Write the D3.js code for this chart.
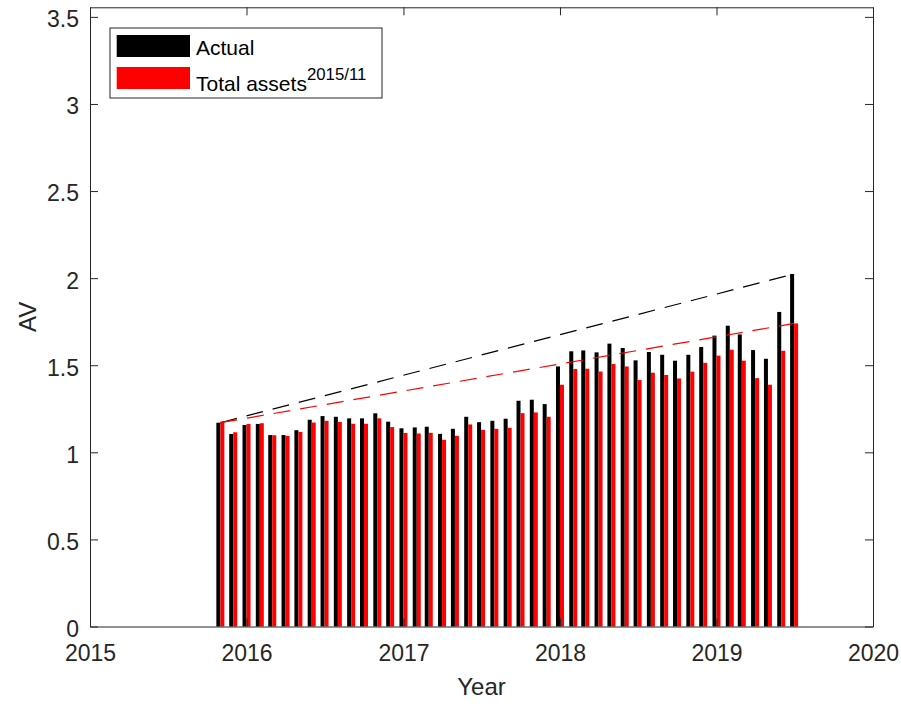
<!DOCTYPE html>
<html>
<head>
<meta charset="utf-8">
<script src="https://cdn.jsdelivr.net/npm/d3@7"></script>
<style>
  html, body { margin: 0; padding: 0; background: #fff; }
  svg { display: block; font-family: "Liberation Sans", Arial, Helvetica, sans-serif; }
</style>
</head>
<body>
<svg id="chart" width="901" height="704"></svg>
<script>
// ---- data ----
const months = [
  "2015-11","2015-12",
  "2016-01","2016-02","2016-03","2016-04","2016-05","2016-06","2016-07","2016-08","2016-09","2016-10","2016-11","2016-12",
  "2017-01","2017-02","2017-03","2017-04","2017-05","2017-06","2017-07","2017-08","2017-09","2017-10","2017-11","2017-12",
  "2018-01","2018-02","2018-03","2018-04","2018-05","2018-06","2018-07","2018-08","2018-09","2018-10","2018-11","2018-12",
  "2019-01","2019-02","2019-03","2019-04","2019-05","2019-06","2019-07"
];
const actual = [
  1.170, 1.105,
  1.157, 1.163, 1.099, 1.099, 1.127, 1.187, 1.208, 1.204, 1.195, 1.195, 1.224, 1.176,
  1.138, 1.143, 1.147, 1.106, 1.135, 1.204, 1.173, 1.181, 1.193, 1.296, 1.302, 1.277,
  1.493, 1.580, 1.585, 1.574, 1.624, 1.599, 1.528, 1.576, 1.560, 1.526, 1.560, 1.605,
  1.670, 1.727, 1.677, 1.587, 1.537, 1.806, 2.024
];
const totalAssets = [
  1.176, 1.115,
  1.163, 1.167, 1.098, 1.094, 1.117, 1.171, 1.181, 1.174, 1.164, 1.164, 1.195, 1.145,
  1.111, 1.108, 1.112, 1.072, 1.095, 1.160, 1.129, 1.135, 1.141, 1.225, 1.229, 1.204,
  1.388, 1.478, 1.480, 1.464, 1.507, 1.493, 1.415, 1.457, 1.444, 1.424, 1.463, 1.514,
  1.555, 1.589, 1.526, 1.426, 1.388, 1.583, 1.740
];
const trendMonths = ["2015-11", "2019-07"];
const trendActual = [1.17, 2.024];
const trendAssets = [1.17, 1.74];
const xTickYears = [2015, 2016, 2017, 2018, 2019, 2020];
const yTicks = [0, 0.5, 1, 1.5, 2, 2.5, 3, 3.5];
const seriesNames = ["Actual", "Total assets"];
const seriesSup = ["", "2015/11"];
const seriesColors = ["#000000", "#ff0000"];
const xLabel = "Year";
const yLabel = "AV";

// ---- layout ----
const svg = d3.select("#chart");
const mLeft = 90, mRight = 873, mTop = 7.3, mBottom = 626.5;
const axisColor = "#262626";
const parse = d3.timeParse("%Y-%m");

const x = d3.scaleTime()
  .domain([new Date(2015, 0, 1), new Date(2020, 0, 1)])
  .range([mLeft, mRight]);
const y = d3.scaleLinear()
  .domain([0, 3.555])
  .range([mBottom, mTop]);

svg.append("rect").attr("width", 901).attr("height", 704).attr("fill", "#fff");

// bars
const dates = months.map(parse);
const barW = 4;
const g = svg.append("g");
g.selectAll("rect.actual").data(dates).join("rect")
  .attr("class", "actual")
  .attr("x", d => x(d) - barW)
  .attr("width", barW)
  .attr("y", (d, i) => y(actual[i]))
  .attr("height", (d, i) => y(0) - y(actual[i]))
  .attr("fill", seriesColors[0]);
g.selectAll("rect.assets").data(dates).join("rect")
  .attr("class", "assets")
  .attr("x", d => x(d))
  .attr("width", barW)
  .attr("y", (d, i) => y(totalAssets[i]))
  .attr("height", (d, i) => y(0) - y(totalAssets[i]))
  .attr("fill", seriesColors[1]);

// dashed trend lines
const tDates = trendMonths.map(parse);
const line = d3.line().x(d => x(d[0])).y(d => y(d[1]));
[[trendActual, seriesColors[0]], [trendAssets, seriesColors[1]]].forEach(([vals, col]) => {
  svg.append("path")
    .attr("d", line(tDates.map((d, i) => [d, vals[i]])))
    .attr("fill", "none")
    .attr("stroke", col)
    .attr("stroke-width", 1.2)
    .attr("stroke-dasharray", "17,10");
});

// axes
const yearDates = xTickYears.map(yy => new Date(yy, 0, 1));
const fontSize = 23;

const axB = svg.append("g").attr("transform", `translate(0,${mBottom})`)
  .call(d3.axisBottom(x).tickValues(yearDates).tickFormat(d3.timeFormat("%Y"))
    .tickSizeInner(-8).tickSizeOuter(0).tickPadding(18.2));
const axT = svg.append("g").attr("transform", `translate(0,${mTop})`)
  .call(d3.axisTop(x).tickValues(yearDates).tickFormat("")
    .tickSizeInner(-8).tickSizeOuter(0));
const axL = svg.append("g").attr("transform", `translate(${mLeft},0)`)
  .call(d3.axisLeft(y).tickValues(yTicks).tickFormat(d3.format("~g"))
    .tickSizeInner(-8).tickSizeOuter(0).tickPadding(11));
const axR = svg.append("g").attr("transform", `translate(${mRight},0)`)
  .call(d3.axisRight(y).tickValues(yTicks).tickFormat("")
    .tickSizeInner(-8).tickSizeOuter(0));

[axB, axT, axL, axR].forEach(a => {
  a.select(".domain").attr("stroke", axisColor).attr("stroke-width", 1);
  a.selectAll(".tick line").attr("stroke", axisColor).attr("stroke-width", 1);
  a.selectAll(".tick text").attr("fill", axisColor)
    .style("font-size", fontSize + "px")
    .style("font-family", "'Liberation Sans', Arial, sans-serif");
});
axL.selectAll(".tick text").attr("dy", "0.43em");

// axis labels
svg.append("text")
  .attr("x", (mLeft + mRight) / 2).attr("y", 695)
  .attr("text-anchor", "middle")
  .attr("fill", axisColor)
  .style("font-size", "24px")
  .text(xLabel);
svg.append("text")
  .attr("transform", `translate(36,${(mTop + mBottom) / 2}) rotate(-90)`)
  .attr("text-anchor", "middle")
  .attr("fill", axisColor)
  .style("font-size", "24px")
  .text(yLabel);

// legend
const lg = svg.append("g");
lg.append("rect")
  .attr("x", 110).attr("y", 28).attr("width", 272).attr("height", 70)
  .attr("fill", "#fff").attr("stroke", axisColor).attr("stroke-width", 1);
const swY = [35, 67];
const txtY = [55, 90.5];
seriesNames.forEach((name, i) => {
  lg.append("rect")
    .attr("x", 116.7).attr("y", swY[i]).attr("width", 73.3).attr("height", 22)
    .attr("fill", seriesColors[i]);
  const t = lg.append("text")
    .attr("x", 196).attr("y", txtY[i])
    .attr("fill", "#000")
    .style("font-size", "21px")
    .text(name);
  if (seriesSup[i]) {
    t.append("tspan")
      .attr("dy", -10.5)
      .style("font-size", "16.8px")
      .text(seriesSup[i]);
  }
});
</script>
</body>
</html>
